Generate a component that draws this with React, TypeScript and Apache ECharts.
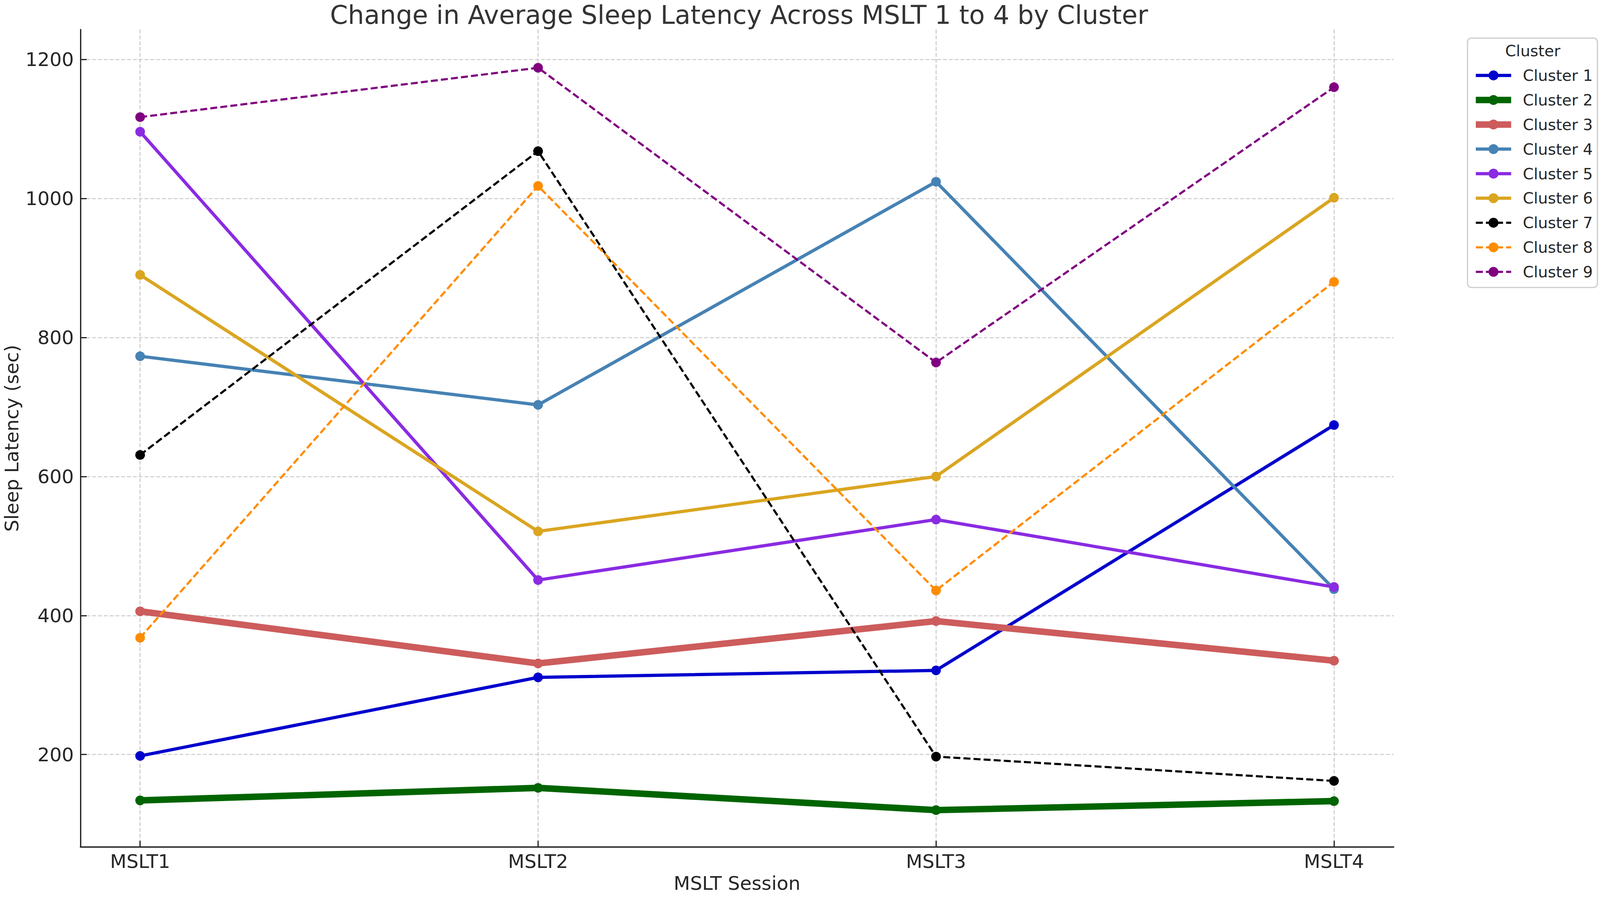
import React, { useEffect, useRef } from "react";
import * as echarts from "echarts";

const sessions = ["MSLT1", "MSLT2", "MSLT3", "MSLT4"];
const yTicks = [200, 400, 600, 800, 1000, 1200];

const cluster1 = [198, 311, 321, 674];
const cluster2 = [134, 152, 120, 133];
const cluster3 = [406, 331, 392, 335];
const cluster4 = [773, 703, 1024, 438];
const cluster5 = [1096, 451, 538, 441];
const cluster6 = [890, 521, 600, 1001];
const cluster7 = [631, 1068, 197, 162];
const cluster8 = [368, 1018, 436, 880];
const cluster9 = [1117, 1188, 764, 1160];

const clusterNames = ["Cluster 1", "Cluster 2", "Cluster 3", "Cluster 4", "Cluster 5", "Cluster 6", "Cluster 7", "Cluster 8", "Cluster 9"];
const clusterValues = [cluster1, cluster2, cluster3, cluster4, cluster5, cluster6, cluster7, cluster8, cluster9];
const clusterColors = ["#0000CD", "#006400", "#CD5C5C", "#4682B4", "#8A2BE2", "#DAA520", "#000000", "#FF8C00", "#800080"];
const clusterWidths = [8.3, 16.7, 16.7, 8.3, 8.3, 8.3, 5.5, 5.5, 5.5];
const clusterDashed = [false, false, false, false, false, false, true, true, true];

const FONT = "DejaVu Sans";
const TEXT = "#262626";
const BASE_W = 4118;
const BASE_H = 2299;

export default function App() {
  const ref = useRef<HTMLDivElement>(null);
  useEffect(() => {
    if (!ref.current) return;
    const el = ref.current;
    const chart = echarts.init(el, null, { renderer: "svg" });
    const s = Math.min(el.clientWidth / BASE_W, el.clientHeight / BASE_H) || 1;
    const p = (v: number) => v * s;
    const lineType = (i: number) => (clusterDashed[i] ? [p(18), p(8)] : "solid");
    const series = clusterNames.map((name, i) => ({
      name,
      type: "line",
      data: clusterValues[i].map((v, j) => [j, v]),
      symbol: "circle",
      symbolSize: p(25),
      showSymbol: true,
      itemStyle: { color: clusterColors[i] },
      lineStyle: {
        color: clusterColors[i],
        width: p(clusterWidths[i]),
        type: lineType(i),
        cap: "butt",
      },
      emphasis: { disabled: true },
    }));
    chart.setOption({
      animation: false,
      backgroundColor: "#ffffff",
      title: {
        text: "Change in Average Sleep Latency Across MSLT 1 to 4 by Cluster",
        left: p(1897),
        top: p(0),
        textAlign: "center",
        textStyle: { fontFamily: FONT, fontSize: p(66), fontWeight: "normal", color: "#333333" },
      },
      grid: { left: p(207), top: p(76), width: p(3380), height: p(2104), containLabel: false, outerBoundsMode: "none" },
      xAxis: {
        type: "value",
        min: -0.15,
        max: 3.15,
        name: "MSLT Session",
        nameLocation: "middle",
        nameGap: p(69),
        nameTextStyle: { fontFamily: FONT, fontSize: p(49), color: TEXT },
        axisLine: { show: true, onZero: false, lineStyle: { color: "#222222", width: p(3.3) } },
        axisTick: { show: true, inside: true, length: p(16), lineStyle: { color: "#222222", width: p(3) }, customValues: [0, 1, 2, 3] },
        axisLabel: {
          customValues: [0, 1, 2, 3],
          formatter: (v: number) => sessions[Math.round(v)] ?? "",
          fontFamily: FONT,
          fontSize: p(49),
          color: TEXT,
          margin: p(12),
        },
        splitLine: { show: true, lineStyle: { color: "#cccccc", width: p(2.7), type: [p(10), p(5)] } },
      },
      yAxis: {
        type: "value",
        min: 67,
        max: 1243,
        name: "Sleep Latency (sec)",
        nameLocation: "middle",
        nameRotate: 90,
        nameGap: p(150),
        nameTextStyle: { fontFamily: FONT, fontSize: p(49), color: TEXT },
        axisLine: { show: true, onZero: false, lineStyle: { color: "#222222", width: p(3.3) } },
        axisTick: { show: true, inside: true, length: p(16), lineStyle: { color: "#222222", width: p(3) }, customValues: yTicks },
        axisLabel: {
          customValues: yTicks,
          formatter: (v: number) => String(v),
          fontFamily: FONT,
          fontSize: p(49),
          color: TEXT,
          margin: p(17),
        },
        splitLine: { show: true, lineStyle: { color: "#cccccc", width: p(2.7), type: [p(10), p(5)] } },
      },
      legend: {
        orient: "vertical",
        left: p(3777),
        top: p(98),
        data: clusterNames.map((name, i) => ({
          name,
          lineStyle: { width: p(clusterWidths[i]), type: lineType(i), color: clusterColors[i] },
        })),
        padding: [p(76), p(12), p(20), p(13)],
        itemWidth: p(91),
        itemHeight: p(32),
        itemGap: p(23),
        borderColor: "#cccccc",
        borderWidth: p(3),
        borderRadius: p(10),
        backgroundColor: "#ffffff",
        textStyle: { fontFamily: FONT, fontSize: p(40), color: TEXT, padding: [0, 0, 0, p(25)], lineHeight: p(40) },
      },
      graphic: [
        {
          type: "text",
          x: p(3945),
          y: p(131),
          z: 100,
          style: { text: "Cluster", fontFamily: FONT, fontSize: p(40), fill: TEXT, textAlign: "center", textVerticalAlign: "middle" },
        },
      ],
      series,
    });
    return () => chart.dispose();
  }, []);
  return <div ref={ref} style={{ position: "fixed", left: 0, top: 0, width: "100vw", height: "100vh" }} />;
}
